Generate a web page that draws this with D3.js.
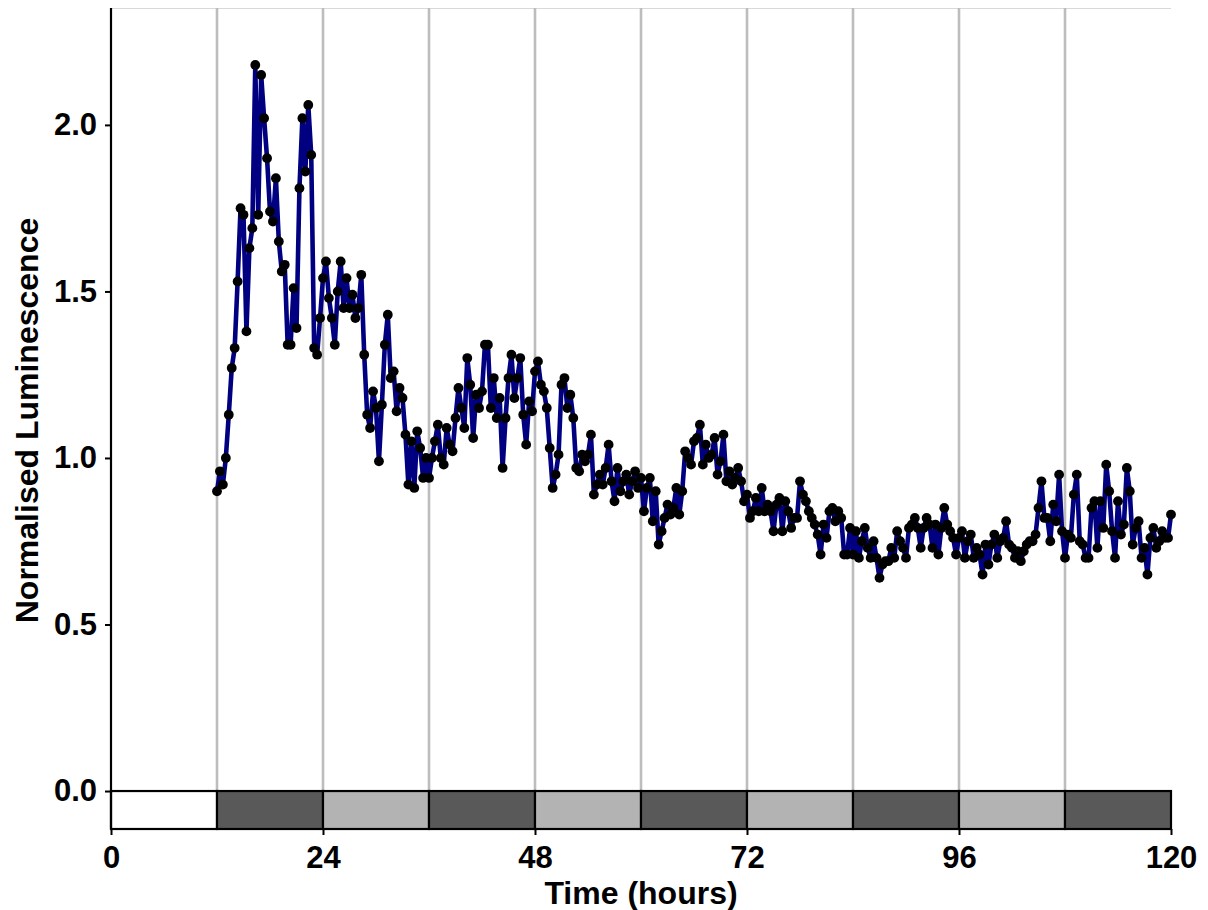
<!DOCTYPE html>
<html>
<head>
<meta charset="utf-8">
<script src="https://cdn.jsdelivr.net/npm/d3@7"></script>
<style>
  body { margin: 0; background: #fff; }
  text { font-family: "Liberation Sans", Arial, Helvetica, sans-serif; font-weight: bold; }
</style>
</head>
<body>
<div id="chart"></div>
<script>
// chart size
var svgWidth = 1208;
var svgHeight = 910;

var margin = {
  top: 8,
  right: 37,
  bottom: 81,
  left: 111
};

var width = svgWidth - margin.left - margin.right;
var height = svgHeight - margin.top - margin.bottom;

// luminescence readings, one every 20 minutes, split into 12 hour windows
var sampleStep = 1 / 3;
var lum12 = [0.90, 0.96, 0.92, 1.00, 1.13, 1.27, 1.33, 1.53, 1.75, 1.73, 1.38, 1.63,
  1.69, 2.18, 1.73, 2.15, 2.02, 1.90, 1.74, 1.71, 1.84, 1.65, 1.56, 1.58,
  1.34, 1.34, 1.51, 1.39, 1.81, 2.02, 1.86, 2.06, 1.91, 1.33, 1.31, 1.42];
var lum24 = [1.54, 1.59, 1.48, 1.42, 1.34, 1.50, 1.59, 1.45, 1.54, 1.45, 1.49, 1.42,
  1.45, 1.55, 1.31, 1.13, 1.09, 1.20, 1.15, 0.99, 1.16, 1.34, 1.43, 1.24,
  1.26, 1.14, 1.21, 1.18, 1.07, 0.92, 1.05, 0.91, 1.08, 1.03, 0.94, 1.00];
var lum36 = [0.94, 1.00, 1.05, 1.10, 1.00, 0.98, 1.09, 1.04, 1.02, 1.12, 1.21, 1.15,
  1.09, 1.30, 1.22, 1.06, 1.19, 1.15, 1.20, 1.34, 1.34, 1.15, 1.24, 1.12,
  1.18, 0.97, 1.12, 1.24, 1.31, 1.18, 1.24, 1.30, 1.13, 1.04, 1.17, 1.14];
var lum48 = [1.26, 1.29, 1.22, 1.20, 1.15, 1.03, 0.91, 0.95, 1.01, 1.22, 1.24, 1.15,
  1.19, 1.12, 0.97, 0.96, 1.01, 0.99, 1.01, 1.07, 0.89, 0.92, 0.95, 0.92,
  0.97, 1.04, 0.93, 0.87, 0.97, 0.90, 0.93, 0.95, 0.89, 0.93, 0.96, 0.91];
var lum60 = [0.94, 0.84, 0.91, 0.94, 0.81, 0.90, 0.74, 0.78, 0.82, 0.86, 0.83, 0.85,
  0.91, 0.83, 0.90, 1.02, 1.00, 0.98, 1.05, 1.06, 1.10, 0.98, 1.04, 1.00,
  1.01, 1.06, 0.95, 0.99, 1.07, 0.93, 0.96, 0.92, 0.94, 0.97, 0.93, 0.87];
var lum72 = [0.89, 0.82, 0.84, 0.88, 0.84, 0.91, 0.84, 0.86, 0.84, 0.78, 0.86, 0.88,
  0.78, 0.87, 0.84, 0.79, 0.82, 0.82, 0.93, 0.89, 0.87, 0.84, 0.82, 0.80,
  0.77, 0.71, 0.80, 0.76, 0.84, 0.85, 0.81, 0.84, 0.82, 0.71, 0.71, 0.79];
var lum84 = [0.71, 0.78, 0.70, 0.75, 0.79, 0.73, 0.70, 0.75, 0.70, 0.64, 0.68, 0.69,
  0.69, 0.73, 0.70, 0.78, 0.75, 0.73, 0.70, 0.79, 0.80, 0.82, 0.79, 0.73,
  0.79, 0.82, 0.80, 0.73, 0.80, 0.71, 0.79, 0.85, 0.80, 0.78, 0.76, 0.71];
var lum96 = [0.76, 0.78, 0.70, 0.75, 0.77, 0.70, 0.73, 0.71, 0.65, 0.74, 0.68, 0.74,
  0.77, 0.70, 0.75, 0.76, 0.81, 0.74, 0.73, 0.70, 0.72, 0.69, 0.72, 0.74,
  0.75, 0.75, 0.77, 0.85, 0.93, 0.82, 0.82, 0.75, 0.86, 0.81, 0.95, 0.78];
var lum108 = [0.70, 0.77, 0.76, 0.89, 0.95, 0.75, 0.74, 0.70, 0.70, 0.85, 0.87, 0.73,
  0.87, 0.79, 0.98, 0.90, 0.78, 0.70, 0.87, 0.77, 0.80, 0.97, 0.90, 0.74,
  0.79, 0.81, 0.70, 0.73, 0.65, 0.76, 0.79, 0.73, 0.75, 0.78, 0.76, 0.76];
var lum120 = [0.83];

var windowStarts = [12, 24, 36, 48, 60, 72, 84, 96, 108, 120];
var windowValues = [lum12, lum24, lum36, lum48, lum60, lum72, lum84, lum96, lum108, lum120];

// light regime bar along the bottom
var phaseStarts = [0, 12, 24, 36, 48, 60, 72, 84, 96, 108];
var phaseTypes = ["free", "dark", "light", "dark", "light", "dark", "light", "dark", "light", "dark"];
var phaseLength = 12;
var phaseFill = {free: "#ffffff", dark: "#595959", light: "#b3b3b3"};

// axis ticks and grid
var xTicks = [0, 24, 48, 72, 96, 120];
var yTicks = [0, 0.5, 1.0, 1.5, 2.0];
var gridHours = [12, 24, 36, 48, 60, 72, 84, 96, 108];

// flatten the windows into points
var lumData = [];
windowValues.forEach(function(vals, w) {
  vals.forEach(function(v, i) {
    lumData.push({time: windowStarts[w] + i * sampleStep, value: v});
  });
});

var svg = d3.select("#chart").append("svg")
  .attr("width", svgWidth)
  .attr("height", svgHeight);

var chartGroup = svg.append("g")
  .attr("transform", `translate(${margin.left}, ${margin.top})`);

var xScale = d3.scaleLinear().domain([0, 120]).range([0, width]);
var yScale = d3.scaleLinear().domain([-0.114, 2.351]).range([height, 0]);

// faint top border
chartGroup.append("line")
  .attr("x1", 0).attr("x2", width)
  .attr("y1", 0.5).attr("y2", 0.5)
  .attr("stroke", "#d9d9d9")
  .attr("stroke-width", 1);

// vertical grid lines every 12 h
chartGroup.selectAll(".grid")
  .data(gridHours)
  .enter()
  .append("line")
  .classed("grid", true)
  .attr("x1", d => xScale(d)).attr("x2", d => xScale(d))
  .attr("y1", 0).attr("y2", height)
  .attr("stroke", "#bdbdbd")
  .attr("stroke-width", 2.6);

// light / dark bars
chartGroup.selectAll(".phase")
  .data(phaseStarts)
  .enter()
  .append("rect")
  .classed("phase", true)
  .attr("x", d => xScale(d))
  .attr("y", yScale(0))
  .attr("width", d => xScale(d + phaseLength) - xScale(d))
  .attr("height", yScale(-0.114) - yScale(0))
  .attr("fill", (d, i) => phaseFill[phaseTypes[i]])
  .attr("stroke", "#000")
  .attr("stroke-width", 2.2);

// the trace
var line = d3.line()
  .x(d => xScale(d.time))
  .y(d => yScale(d.value));

chartGroup.append("path")
  .datum(lumData)
  .attr("fill", "none")
  .attr("stroke", "#000080")
  .attr("stroke-width", 4.6)
  .attr("stroke-linejoin", "round")
  .attr("d", line);

chartGroup.selectAll(".pt")
  .data(lumData)
  .enter()
  .append("circle")
  .classed("pt", true)
  .attr("cx", d => xScale(d.time))
  .attr("cy", d => yScale(d.value))
  .attr("r", 4.9)
  .attr("fill", "#000");

// axes
var leftAxis = d3.axisLeft(yScale)
  .tickValues(yTicks)
  .tickFormat(d3.format(".1f"))
  .tickSize(6)
  .tickPadding(8);

var bottomAxis = d3.axisBottom(xScale)
  .tickValues(xTicks)
  .tickSize(6)
  .tickPadding(11);

var yAxis = chartGroup.append("g").call(leftAxis);
var xAxis = chartGroup.append("g")
  .attr("transform", `translate(0, ${height})`)
  .call(bottomAxis);

[xAxis, yAxis].forEach(function(ax) {
  ax.select(".domain").remove();
  ax.selectAll("line").attr("stroke", "#000").attr("stroke-width", 2);
  ax.selectAll("text")
    .attr("fill", "#000")
    .style("font-size", "31px");
});

// axis lines
chartGroup.append("line")
  .attr("x1", 0).attr("x2", 0)
  .attr("y1", 0).attr("y2", height)
  .attr("stroke", "#000").attr("stroke-width", 2.2);
chartGroup.append("line")
  .attr("x1", 0).attr("x2", width)
  .attr("y1", height).attr("y2", height)
  .attr("stroke", "#000").attr("stroke-width", 2.2);

// axis titles
chartGroup.append("text")
  .attr("x", width / 2)
  .attr("y", height + 75)
  .attr("text-anchor", "middle")
  .style("font-size", "32px")
  .text("Time (hours)");

chartGroup.append("text")
  .attr("transform", "rotate(-90)")
  .attr("x", -height / 2 - 2)
  .attr("y", -73)
  .attr("text-anchor", "middle")
  .style("font-size", "32px")
  .text("Normalised Luminescence");
</script>
</body>
</html>
